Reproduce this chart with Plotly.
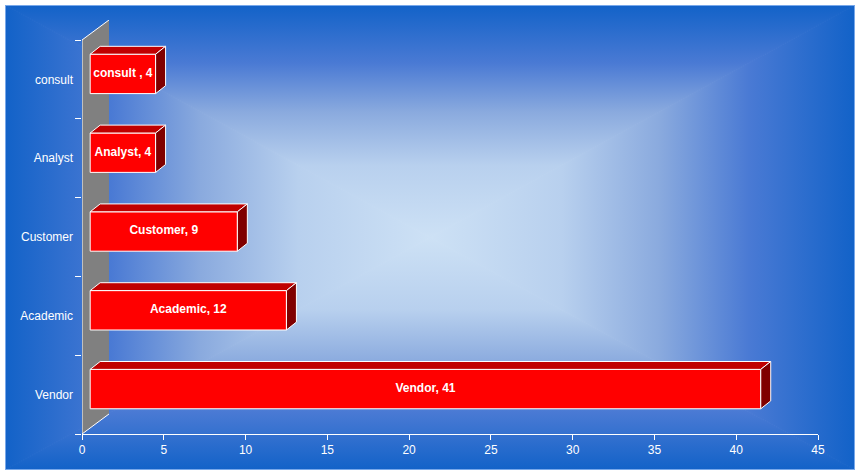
import base64
import plotly.graph_objects as go

# data
categories = ["Vendor", "Academic", "Customer", "Analyst", "consult"]
counts = [41, 12, 9, 4, 4]
bar_labels = ["Vendor, 41", "Academic, 12", "Customer, 9", "Analyst, 4", "consult , 4"]
x_ticks = [0, 5, 10, 15, 20, 25, 30, 35, 40, 45]

# 3D look (in axis units)
BASE = 0.5        # front face starts a bit in front of the wall
DX, DY = 0.61, 0.10       # depth of the bars
LIFT = 0.07       # front face sits a little above the band centre
HALF = 0.25       # half thickness of the front face
WALL_DX, WALL_DY = 1.65, 0.254
Y_LO, Y_HI = -0.5, len(categories) - 0.5


def background_svg():
    """Box gradient: dark blue at the edges, pale in the middle."""
    w, h = 850, 465
    cx, cy = w / 2, h / 2
    stops = ('<stop offset="0" stop-color="#1262c8"/>'
             '<stop offset="0.25" stop-color="#4a7ad4"/>'
             '<stop offset="0.46" stop-color="#8aaade"/>'
             '<stop offset="0.69" stop-color="#b8d0ee"/>'
             '<stop offset="1" stop-color="#cde1f5"/>')
    grads = {
        "t": (cx, 0, cx, cy), "b": (cx, h, cx, cy),
        "l": (0, cy, cx, cy), "r": (w, cy, cx, cy),
    }
    defs = "".join(
        f'<linearGradient id="{k}" gradientUnits="userSpaceOnUse" x1="{a}" y1="{b}" x2="{c}" y2="{d}">{stops}</linearGradient>'
        for k, (a, b, c, d) in grads.items())
    tris = {
        "t": f"0,0 {w},0 {cx},{cy}", "b": f"0,{h} {w},{h} {cx},{cy}",
        "l": f"0,0 0,{h} {cx},{cy}", "r": f"{w},0 {w},{h} {cx},{cy}",
    }
    polys = "".join(f'<polygon points="{p}" fill="url(#{k})" stroke="url(#{k})" stroke-width="1"/>'
                    for k, p in tris.items())
    svg = (f'<svg xmlns="http://www.w3.org/2000/svg" width="{w}" height="{h}" '
           f'viewBox="0 0 {w} {h}" preserveAspectRatio="none"><defs>{defs}</defs>{polys}'
           f'<rect x="0.5" y="0.5" width="{w - 1}" height="{h - 1}" fill="none" stroke="#78a8ea" stroke-width="1"/></svg>')
    return "data:image/svg+xml;base64," + base64.b64encode(svg.encode()).decode()


pos = list(range(len(categories)))

# top and side faces of the bars
top_x, top_y, side_x, side_y = [], [], [], []
for i, v in zip(pos, counts):
    yt = i + LIFT + HALF
    yb = i + LIFT - HALF
    end = BASE + v
    top_x += [BASE, end, end + DX, BASE + DX, BASE, None]
    top_y += [yt, yt, yt + DY, yt + DY, yt, None]
    side_x += [end, end + DX, end + DX, end, end, None]
    side_y += [yb, yb + DY, yt + DY, yt, yb, None]

fig = go.Figure()

fig.add_trace(go.Bar(
    orientation="h", y=pos, x=counts, base=BASE, width=2 * HALF, offset=LIFT - HALF,
    marker=dict(color="#ff0000", line=dict(color="white", width=1)),
    hoverinfo="skip"))

fig.add_trace(go.Scatter(x=top_x, y=top_y, mode="lines", fill="toself",
                         fillcolor="#c00000", line=dict(color="white", width=1),
                         hoverinfo="skip"))
fig.add_trace(go.Scatter(x=side_x, y=side_y, mode="lines", fill="toself",
                         fillcolor="#800000", line=dict(color="white", width=1),
                         hoverinfo="skip"))

fig.add_trace(go.Scatter(
    x=[BASE + v / 2 for v in counts], y=[i + LIFT for i in pos],
    mode="text", text=bar_labels,
    textfont=dict(family="Liberation Sans, Arial", size=12, color="white", weight="bold"),
    hoverinfo="skip"))

# gray side wall
fig.add_shape(type="path", layer="below", line=dict(width=0), fillcolor="#808080",
              path=f"M 0,{Y_LO} L 0,{Y_HI} L {WALL_DX},{Y_HI + WALL_DY} "
                   f"L {WALL_DX},{Y_LO + WALL_DY} Z")
fig.add_shape(type="path", layer="below", line=dict(color="white", width=1),
              path=f"M {WALL_DX},{Y_HI + WALL_DY} L 0,{Y_HI} L 0,{Y_LO} "
                   f"L {WALL_DX},{Y_LO + WALL_DY}")

fig.add_layout_image(dict(
    source=background_svg(), xref="paper", yref="paper",
    x=-77 / 736, y=429 / 414, sizex=850 / 736, sizey=465 / 414,
    xanchor="left", yanchor="top", sizing="stretch", layer="below"))

tick_font = dict(family="Liberation Sans, Arial", size=12, color="white")

fig.update_layout(
    width=862, height=476,
    margin=dict(l=82, r=44, t=20, b=42),
    paper_bgcolor="white", plot_bgcolor="rgba(0,0,0,0)",
    showlegend=False,
    xaxis=dict(range=[0, 45], tickvals=x_ticks, showgrid=False, zeroline=False,
               showline=True, linecolor="white", linewidth=1,
               ticks="outside", ticklen=5, tickcolor="white",
               tickfont=tick_font, fixedrange=True),
    yaxis=dict(range=[Y_LO, Y_HI + WALL_DY], tickvals=pos, ticktext=categories,
               showgrid=False, zeroline=False, showline=False, ticks="",
               ticklabelstandoff=8, tickfont=tick_font,
               minor=dict(tickvals=[p - 0.5 for p in pos] + [Y_HI],
                          ticks="outside", ticklen=6, tickcolor="white", showgrid=False),
               fixedrange=True),
)

# the page's default body margin would push the chart 8px off
fig.write_html("out.html", config={"displayModeBar": False},
               post_script="document.body.style.margin = '0';")
